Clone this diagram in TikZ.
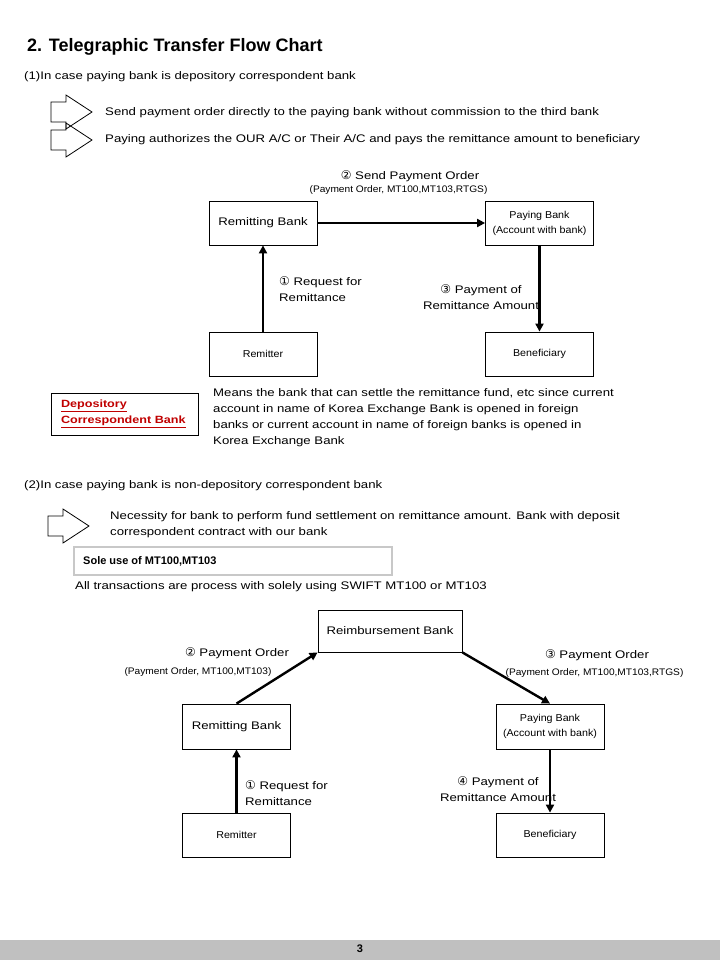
\documentclass[tikz,border=0pt]{standalone}
\usepackage{fontspec}
\setmainfont{Liberation Sans}
\newfontfamily\widefont[FakeStretch=1.2]{Liberation Sans}
\newfontfamily\narrowfont[FakeStretch=1.07]{Liberation Sans}
\newfontfamily\circfont{DejaVu Sans}
\usetikzlibrary{arrows.meta}
\definecolor{depored}{RGB}{192,0,0}
\definecolor{solegray}{RGB}{200,200,200}
\definecolor{footgray}{RGB}{192,192,192}
\newcommand{\cnum}[1]{{\circfont\fontsize{12}{10}\selectfont #1}}
\tikzset{
  bank/.style = {draw, line width=0.8pt, minimum width=108pt, minimum height=44pt,
                 inner sep=0pt, align=center, font=\widefont\fontsize{11}{13}\selectfont},
  smallbank/.style = {bank, font=\narrowfont\fontsize{10}{15}\selectfont},
  flow/.style = {-{Triangle[length=8pt,width=8pt]}, line width=2.4pt},
  body/.style = {anchor=west, inner sep=0pt, align=left, font=\widefont\fontsize{11}{16}\selectfont},
  lab/.style = {inner sep=0pt, align=center, font=\widefont\fontsize{11}{16}\selectfont},
  sublab/.style = {inner sep=0pt, font=\narrowfont\fontsize{9.5}{11}\selectfont},
  bigarrow/.pic = {\draw[line width=0.8pt] (0,-10) -- (15,-10) -- (15,-17) -- (41,0)
                   -- (15,17) -- (15,10) -- (0,10) -- cycle;}
}
\begin{document}
\begin{tikzpicture}[x=1pt,y=-1pt]
  \useasboundingbox (0,0) rectangle (720,960);
  % heading
  \node[body, font=\bfseries\fontsize{18}{20}\selectfont] (title) at (27,47) {2. Telegraphic Transfer Flow Chart};
  \node[body] (case1) at (24,77) {(1)In case paying bank is depository correspondent bank};
  \pic at (51,112) {bigarrow};
  \pic at (51,140) {bigarrow};
  \node[body] (note1) at (105,113) {Send payment order directly to the paying bank without commission to the third bank};
  \node[body] (note2) at (105,140) {Paying authorizes the OUR A/C or Their A/C and pays the remittance amount to beneficiary};
  % first flow
  \node[bank] (remitbank) at (263,223) {Remitting Bank};
  \node[smallbank] (paybank) at (539.5,223) {Paying Bank\\(Account with bank)};
  \node[smallbank] (remitter) at (263,354) {Remitter};
  \node[smallbank] (benef) at (539.5,354) {Beneficiary};
  \draw[flow] (remitter) -- (remitbank);
  \draw[flow] (remitbank) -- (paybank);
  \draw[flow] (paybank) -- (benef);
  \node[lab] (sendlab) at (410,176) {\cnum{②} Send Payment Order};
  \node[sublab] (sendsub) at (398.5,190) {(Payment Order, MT100,MT103,RTGS)};
  \node[body] (reqlab) at (279,289.5) {\cnum{①} Request for\\Remittance};
  \node[lab] (paylab) at (481,297.5) {\cnum{③} Payment of\\Remittance Amount};
  % definition box
  \node[draw, line width=0.8pt, text width=127pt, inner xsep=10pt, inner ysep=0pt, minimum height=42pt,
        text=depored, align=left, font=\widefont\bfseries\fontsize{10.5}{16}\selectfont] (depo) at (124.5,414)
        {\underline{Depository}\\\underline{Correspondent Bank}};
  \node[body, anchor=north west] (means) at (213,388) {Means the bank that can settle the remittance fund, etc since current\\account in name of Korea Exchange Bank is opened in foreign\\banks or current account in name of foreign banks is opened in\\Korea Exchange Bank};
  % second case
  \node[body] (case2) at (24,486) {(2)In case paying bank is non-depository correspondent bank};
  \pic at (48,526) {bigarrow};
  \node[body] (note3) at (110,525) {Necessity for bank to perform fund settlement on remittance amount. Bank with deposit\\correspondent contract with our bank};
  \node[draw=solegray, line width=2pt, minimum width=318pt, minimum height=28pt, inner sep=0pt] (solebox) at (233,561) {};
  \node[body, font=\bfseries\fontsize{11}{12}\selectfont] (soletext) at (83,561) {Sole use of MT100,MT103};
  \node[body] (alltrans) at (75,587) {All transactions are process with solely using SWIFT MT100 or MT103};
  % second flow
  \node[bank, minimum width=144pt, minimum height=42pt] (reimb) at (390,631) {Reimbursement Bank};
  \node[bank, minimum height=45pt] (remitbank2) at (236.5,726.5) {Remitting Bank};
  \node[smallbank, minimum height=45pt] (paybank2) at (550,726.5) {Paying Bank\\(Account with bank)};
  \node[smallbank] (remitter2) at (236.5,835) {Remitter};
  \node[smallbank] (benef2) at (550,835) {Beneficiary};
  \draw[flow] (remitter2) -- (remitbank2);
  \draw[flow] (remitbank2.north) -- (reimb.south west);
  \draw[flow] (reimb.south east) -- (paybank2.north);
  \draw[flow] (paybank2) -- (benef2);
  \node[lab] (orderlab) at (237,653) {\cnum{②} Payment Order};
  \node[sublab] (ordersub) at (198,672) {(Payment Order, MT100,MT103)};
  \node[lab] (orderlab2) at (597,655) {\cnum{③} Payment Order};
  \node[sublab] (ordersub2) at (594.5,673) {(Payment Order, MT100,MT103,RTGS)};
  \node[body] (reqlab2) at (245,793.5) {\cnum{①} Request for\\Remittance};
  \node[lab] (paylab2) at (498,789.5) {\cnum{④} Payment of\\Remittance Amount};
  % footer
  \fill[footgray] (0,940) rectangle (720,960);
  \node[inner sep=0pt, font=\bfseries\fontsize{11}{12}\selectfont] (pagenum) at (360,949) {3};
\end{tikzpicture}
\end{document}
